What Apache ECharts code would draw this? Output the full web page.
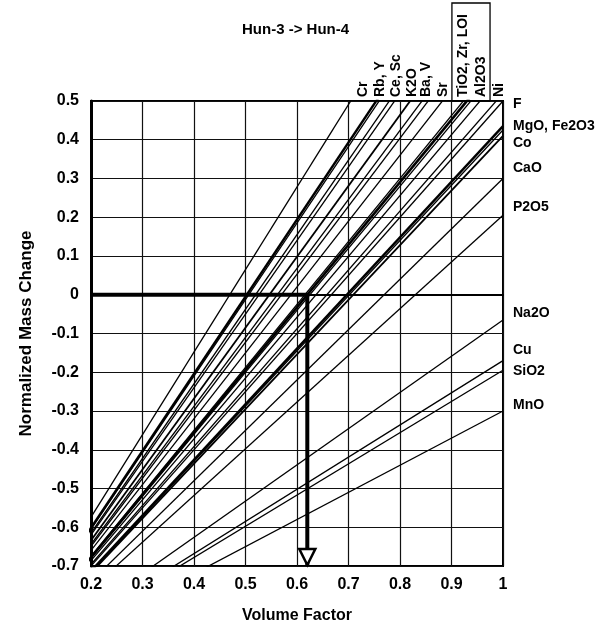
<!DOCTYPE html>
<html><head><meta charset="utf-8">
<script src="https://cdn.jsdelivr.net/npm/echarts@6/dist/echarts.min.js"></script>
<style>html,body{margin:0;padding:0;background:#fff}#c{width:610px;height:630px}</style>
</head><body><div id="c"></div>
<script>
// ---- data ----
const elements = ['Cr','Rb','Y','Ce','Sc','K2O','Ba','V','Sr','TiO2','Zr','LOI','Al2O3','Ni','F','MgO','Fe2O3','Co','CaO','P2O5','Na2O','Cu','SiO2','MnO'];
// normalized mass change at volume factor = 1 (every isocon passes through Fv=0, -1)
const massChangeAtFv1 = [1.13,0.99,0.975,0.925,0.90,0.83,0.78,0.755,0.70,0.613,0.625,0.60,0.57,0.52,0.50,0.435,0.425,0.41,0.30,0.205,-0.065,-0.17,-0.195,-0.30];
const topLabelGroups = [['Cr'],['Rb','Y'],['Ce','Sc'],['K2O'],['Ba','V'],['Sr'],['TiO2','Zr','LOI'],['Al2O3'],['Ni']];
const rightLabelGroups = [['F'],['MgO','Fe2O3'],['Co'],['CaO'],['P2O5'],['Na2O'],['Cu'],['SiO2'],['MnO']];
const boxedGroups = ['TiO2, Zr, LOI','Al2O3'];
const xTicks = [0.2,0.3,0.4,0.5,0.6,0.7,0.8,0.9,1];
const yTicks = [-0.7,-0.6,-0.5,-0.4,-0.3,-0.2,-0.1,0,0.1,0.2,0.3,0.4,0.5];
const originPoint = [0, -1];
const solution = [0.62, 0]; // volume factor where immobile elements show no mass change
const titleText = 'Hun-3 -> Hun-4';

// ---- styling ----
const FONT = '"Liberation Sans", Arial, Helvetica, sans-serif';
const thick = {Rb:2.4, K2O:1.8, TiO2:2.6, MgO:2.4, Co:1.8};
const topDx = {Cr:12, Rb:4, Ce:7, K2O:2, Ba:4, Sr:1, TiO2:-4, Al2O3:1, Ni:3};
const rightDy = {F:3, MgO:0, Co:7, CaO:-10, P2O5:-8, Na2O:-7, Cu:-10, SiO2:1, MnO:-6};

const xMin = xTicks[0], xMax = xTicks[xTicks.length-1];
const yMin = yTicks[0], yMax = yTicks[yTicks.length-1];

const chart = echarts.init(document.getElementById('c'), null, {renderer:'canvas'});

const series = elements.map((el, i) => ({
  type:'line', name: el, data:[originPoint, [1, massChangeAtFv1[i]]],
  symbol:'none', clip:true, silent:true, z:2,
  lineStyle:{color:'#000', width: thick[el] || 1.3}
}));
series.push({type:'line', data:[[xMin, solution[1]], solution], symbol:'none', z:4, silent:true,
  lineStyle:{color:'#000', width:4}});
series.push({type:'line', data:[solution, [solution[0], yMin]], symbol:'none', z:4, silent:true,
  lineStyle:{color:'#000', width:4}});

const fmt = v => String(+v.toFixed(1));

chart.setOption({
  animation:false,
  backgroundColor:'#fff',
  title:{text:titleText, left:242, top:22, padding:0,
    textStyle:{fontFamily:FONT, fontSize:15, fontWeight:'bold', color:'#000'}},
  grid:{left:91, right:107, top:101, bottom:64, show:true, borderColor:'#000', borderWidth:2, backgroundColor:'transparent'},
  xAxis:{type:'value', min:xMin, max:xMax, interval:0.1,
    name:'Volume Factor', nameLocation:'middle', nameGap:42,
    nameTextStyle:{fontFamily:FONT, fontSize:16, fontWeight:'bold', color:'#000'},
    axisLine:{show:true, lineStyle:{color:'#000', width:2}},
    axisTick:{show:false},
    axisLabel:{formatter:fmt, margin:11, fontFamily:FONT, fontSize:16, fontWeight:'bold', color:'#000'},
    splitLine:{show:true, lineStyle:{color:'#111', width:1.2}}},
  yAxis:{type:'value', min:yMin, max:yMax, interval:0.1,
    name:'Normalized Mass Change', nameLocation:'middle', nameGap:56,
    nameTextStyle:{fontFamily:FONT, fontSize:17, fontWeight:'bold', color:'#000'},
    axisLine:{show:true, lineStyle:{color:'#000', width:3}},
    axisTick:{show:false},
    axisLabel:{formatter:fmt, margin:12, fontFamily:FONT, fontSize:16, fontWeight:'bold', color:'#000'},
    splitLine:{show:true, lineStyle:{color:'#111', width:1.2}}},
  series
});

// ---- annotations positioned through the chart's own scales ----
const idx = name => elements.indexOf(name);
const P = (x, y) => chart.convertToPixel({gridIndex:0}, [x, y]);
const graphics = [];
const topY = P(xMin, yMax)[1];
const rightX = P(xMax, yMax)[0];
const boxPx = {};
topLabelGroups.forEach(g => {
  const m = massChangeAtFv1[idx(g[0])];
  const xTop = (yMax - originPoint[1]) / (m - originPoint[1]) * (1 - originPoint[0]) + originPoint[0];
  const px = P(xTop, yMax)[0] + (topDx[g[0]] || 0);
  const text = g.join(', ');
  boxPx[text] = px;
  graphics.push({type:'text', x:px, y:topY - 4, rotation:Math.PI/2, z:10,
    style:{text, font:'bold 14px ' + FONT, fill:'#000', align:'left', verticalAlign:'middle'}});
});
const bl = boxPx[boxedGroups[0]] - 11, br = boxPx[boxedGroups[1]] + 9;
graphics.push({type:'rect', shape:{x:bl, y:3, width:br-bl, height:topY-3}, z:9,
  style:{fill:'none', stroke:'#000', lineWidth:1.3}});
rightLabelGroups.forEach(g => {
  const m = massChangeAtFv1[idx(g[0])];
  const p = P(xMax, m);
  graphics.push({type:'text', x:rightX + 10, y:p[1] + (rightDy[g[0]] || 0), z:10,
    style:{text:g.join(', '), font:'bold 14px ' + FONT, fill:'#000', align:'left', verticalAlign:'middle'}});
});
// arrow head at the end of the vertical solution line
const tip = P(solution[0], yMin);
graphics.push({type:'polygon', z:20,
  shape:{points:[[tip[0], tip[1]-1], [tip[0]-8, tip[1]-17], [tip[0]+8, tip[1]-17]]},
  style:{fill:'#fff', stroke:'#000', lineWidth:2.5}});
chart.setOption({graphic:graphics});
</script></body></html>
